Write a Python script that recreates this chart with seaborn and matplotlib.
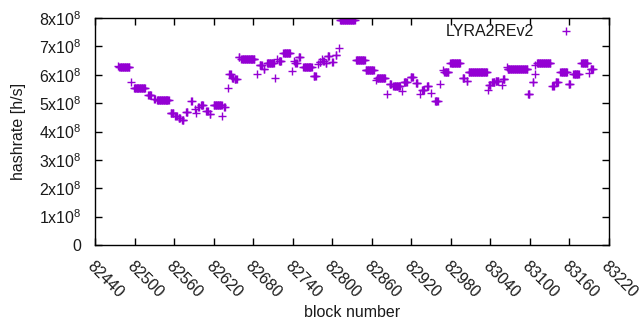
import numpy as np
import pandas as pd
import matplotlib
matplotlib.use('Agg')
import matplotlib.pyplot as plt
import seaborn as sns

# runs of consecutive blocks that share one hashrate value (x 1e8 h/s)
run_start = [82475, 82477, 82494, 82499, 82521, 82530, 82534, 82555, 82562, 82567,
             82572, 82578, 82586, 82592, 82594, 82597, 82601, 82609, 82614, 82620,
             82633, 82636, 82642, 82644, 82648, 82652, 82658, 82662, 82686, 82690,
             82696, 82701, 82713, 82716, 82719, 82726, 82739, 82742, 82744, 82749,
             82756, 82772, 82778, 82781, 82784, 82786, 82790, 82793, 82800, 82805,
             82810, 82812, 82836, 82851, 82867, 82868, 82883, 82887, 82892, 82894,
             82906, 82909, 82919, 82927, 82933, 82936, 82944, 82950, 82956, 82964,
             82968, 82970, 82979, 82998, 83004, 83007, 83036, 83038, 83043, 83048,
             83057, 83059, 83065, 83066, 83097, 83104, 83107, 83108, 83111, 83134,
             83139, 83146, 83159, 83166, 83178, 83179, 83189, 83192]
run_end = [82475, 82492, 82494, 82516, 82525, 82531, 82552, 82559, 82564, 82569,
           82574, 82580, 82587, 82592, 82594, 82598, 82604, 82611, 82615, 82632,
           82633, 82637, 82642, 82646, 82650, 82655, 82659, 82682, 82686, 82693,
           82697, 82711, 82713, 82716, 82722, 82736, 82739, 82742, 82746, 82751,
           82769, 82775, 82778, 82782, 82784, 82787, 82791, 82795, 82801, 82806,
           82810, 82834, 82849, 82863, 82867, 82880, 82883, 82889, 82892, 82903,
           82906, 82913, 82922, 82929, 82933, 82939, 82946, 82950, 82960, 82964,
           82968, 82976, 82994, 83000, 83005, 83035, 83036, 83040, 83046, 83052,
           83057, 83061, 83065, 83096, 83099, 83105, 83107, 83108, 83131, 83136,
           83142, 83156, 83161, 83174, 83178, 83187, 83189, 83195]
run_value = [6.31, 6.28, 5.74, 5.52, 5.27, 5.16, 5.10, 4.65, 4.54, 4.46,
             4.40, 4.69, 5.07, 4.80, 4.66, 4.86, 4.95, 4.72, 4.60, 4.93,
             4.55, 4.86, 5.52, 6.02, 5.90, 5.86, 6.63, 6.57, 6.01, 6.36,
             6.22, 6.42, 5.87, 6.57, 6.49, 6.75, 6.13, 6.49, 6.42, 6.61,
             6.26, 5.94, 6.37, 6.45, 6.57, 6.49, 6.42, 6.65, 6.45, 6.68,
             6.96, 7.93, 6.51, 6.15, 5.83, 5.87, 5.31, 5.69, 5.61, 5.59,
             5.41, 5.73, 5.92, 5.71, 5.31, 5.48, 5.60, 5.34, 5.07, 5.66,
             6.16, 6.08, 6.43, 5.87, 5.77, 6.11, 5.48, 5.63, 5.75, 5.79,
             5.64, 5.85, 6.26, 6.19, 5.33, 5.75, 6.02, 6.34, 6.43, 5.60,
             5.73, 6.08, 5.66, 6.01, 6.40, 6.43, 6.05, 6.19]

x_ticks = list(range(82440, 83221, 60))
y_ticks = [0, 1e8, 2e8, 3e8, 4e8, 5e8, 6e8, 7e8, 8e8]
y_tick_labels = ['0'] + ['%dx10$^{\\mathregular{8}}$' % i for i in range(1, 9)]

# expand the runs into one row per block
rows = []
for s, e, v in zip(run_start, run_end, run_value):
    for b in range(s, e + 1):
        rows.append((b, v * 1e8))
df = pd.DataFrame(rows, columns=['block', 'hashrate'])

sns.set_style('ticks')
plt.rcParams['font.family'] = ['Liberation Sans', 'DejaVu Sans']
plt.rcParams['mathtext.fontset'] = 'custom'
plt.rcParams['mathtext.rm'] = 'Liberation Sans'
plt.rcParams['text.color'] = '#1a1a1a'
plt.rcParams['xtick.labelcolor'] = '#1a1a1a'
plt.rcParams['ytick.labelcolor'] = '#1a1a1a'
plt.rcParams['axes.labelcolor'] = '#1a1a1a'

fig = plt.figure(figsize=(6.4, 3.3), dpi=100)
ax = fig.add_axes([95 / 640, 85 / 330, 514 / 640, 227 / 330])

sns.scatterplot(
    x='block',
    y='hashrate',
    data=df,
    marker='+',
    s=32,
    linewidth=1.0,
    color='#9400d3',
    label='LYRA2REv2',
    ax=ax,
)

ax.set_xlim(82440, 83220)
ax.set_ylim(0, 8e8)
ax.set_xticks(x_ticks)
ax.set_xticklabels([str(t) for t in x_ticks], rotation=-45, ha='left', va='top',
                   rotation_mode='anchor', fontsize=11.5)
ax.set_yticks(y_ticks)
ax.set_yticklabels(y_tick_labels, fontsize=11.5)
ax.tick_params(direction='in', top=True, right=True, length=5, width=1, color='black')
ax.tick_params(axis='y', pad=10)
ax.tick_params(axis='x', pad=10)
for sp in ax.spines.values():
    sp.set_color('black')
    sp.set_linewidth(1)

ax.set_xlabel('block number', fontsize=11.5, labelpad=3)
ax.set_ylabel('hashrate [h/s]', fontsize=11.5, labelpad=9)

ax.legend(loc='upper right', bbox_to_anchor=(0.947, 0.975), frameon=False,
          markerfirst=False, fontsize=11.5, handletextpad=1.0,
          borderaxespad=0.0, borderpad=0.0, markerscale=1.0)

fig.savefig('out.png', dpi=100)
